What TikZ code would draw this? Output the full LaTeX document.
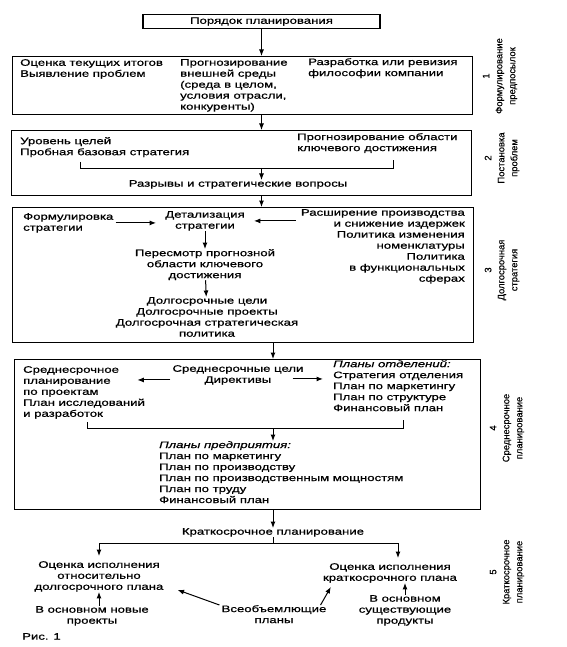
\documentclass[tikz,border=0pt]{standalone}
\usepackage{fontspec}
\setmainfont[FakeStretch=1.4,FakeBold=0.8]{Liberation Sans}
\newfontfamily\sidefont[FakeBold=0.3]{Liberation Sans}
\usetikzlibrary{arrows.meta,positioning,calc}
\tikzset{
  boxframe/.style={draw=black,line width=1.2pt},
  txt/.style={inner sep=0pt,font=\fontsize{9.4}{11}\selectfont},
  lefttxt/.style={txt,align=left,anchor=north west},
  midtxt/.style={txt,align=center,anchor=north},
  righttxt/.style={txt,align=right,anchor=north east},
  sidetxt/.style={inner sep=0pt,rotate=90,align=center,
                  font=\sidefont\fontsize{9.4}{13}\selectfont},
  arr/.style={-{Latex[length=6.5pt,width=5pt]},line width=1pt},
  brk/.style={line width=0.8pt}
}
\begin{document}
\begin{tikzpicture}[x=1pt,y=-1pt]
  \path[use as bounding box] (0,0) rectangle (566,647);

  \node[boxframe,txt,minimum width=237pt,minimum height=14pt] (order) at (261.5,21.5)
    {Порядок планирования};

  \node[boxframe,anchor=north west,minimum width=460pt,minimum height=58pt] (stage1) at (12,56) {};
  \node[lefttxt] (current) at (20,59) {Оценка текущих итогов\\Выявление проблем};
  \node[lefttxt] (environ) at (180,59)
    {Прогнозирование\\внешней среды\\(среда в целом,\\условия отрасли,\\конкуренты)};
  \node[lefttxt] (philos) at (308,58) {Разработка или ревизия\\философии компании};
  \node[sidetxt] (side1) at (500,76) {1\\Формулирование\\предпосылок};
  \draw[arr] (order.south) -- (order.south |- stage1.north);

  \node[boxframe,anchor=north west,minimum width=460pt,minimum height=65pt] (stage2) at (11,130) {};
  \node[lefttxt] (goals) at (20,137) {Уровень целей\\Пробная базовая стратегия};
  \node[lefttxt] (keyfc) at (297,133) {Прогнозирование области\\ключевого достижения};
  \node[midtxt] (gaps) at (238,180) {Разрывы и стратегические вопросы};
  \node[sidetxt] (side2) at (502,158) {2\\Постановка\\проблем};
  \coordinate (brA) at (80,168);
  \coordinate (brB) at (393,168);
  \draw[brk] (80,162) -- (brA) -- (brB) -- (393,160);
  \draw[arr] (order.south |- stage1.south) -- (order.south |- stage2.north);
  \draw[arr] (order.south |- brA) -- (order.south |- gaps.north);

  \node[boxframe,anchor=north west,minimum width=461pt,minimum height=135pt] (stage3) at (12,207) {};
  \node[lefttxt] (form) at (23,213) {Формулировка\\стратегии};
  \node[midtxt] (detail) at (205,211) {Детализация\\стратегии};
  \node[righttxt] (expand) at (465,209)
    {Расширение производства\\и снижение издержек\\Политика изменения\\номенклатуры\\Политика\\в функциональных\\сферах};
  \node[midtxt] (review) at (205,249) {Пересмотр прогнозной\\области ключевого\\достижения};
  \node[midtxt] (longterm) at (207,297)
    {Долгосрочные цели\\Долгосрочные проекты\\Долгосрочная стратегическая\\политика};
  \node[sidetxt] (side3) at (502,270) {3\\Долгосрочная\\стратегия};
  \draw[arr] (order.south |- stage2.south) -- (order.south |- stage3.north);
  \draw[arr] ([xshift=2pt]form.east) -- ([xshift=-9pt]detail.west |- form.east);
  \draw[arr] ([xshift=-5pt]expand.west |- detail.east) -- ([xshift=9pt]detail.east);
  \draw[arr] (detail) -- (review);
  \draw[arr] (review) -- (longterm);

  \node[boxframe,anchor=north west,minimum width=466pt,minimum height=150pt] (stage4) at (14,359) {};
  \node[lefttxt] (midproj) at (23,366)
    {Среднесрочное\\планирование\\по проектам\\План исследований\\и разработок};
  \node[midtxt] (midgoals) at (238,365) {Среднесрочные цели\\Директивы};
  \node[lefttxt] (divplans) at (333,360)
    {\itshape Планы отделений:\\Стратегия отделения\\План по маркетингу\\План по структуре\\Финансовый план};
  \node[lefttxt] (entplans) at (159,441)
    {\itshape Планы предприятия:\\План по маркетингу\\План по производству\\План по производственным мощностям\\План по труду\\Финансовый план};
  \node[sidetxt] (side4) at (507,428) {4\\Среднесрочное\\планирование};
  \coordinate (brC) at (87,428);
  \coordinate (brD) at (403,428);
  \draw[brk] (87,422) -- (brC) -- (brD) -- (403,420);
  \draw[arr] ([xshift=-2pt,yshift=-5pt]midgoals.west) -- ([xshift=-35pt,yshift=-5pt]midgoals.west);
  \draw[arr] ([xshift=-11pt,yshift=-4pt]midgoals.east) -- ([xshift=-10pt,yshift=-4pt]divplans.west |- midgoals.east);

  \node[midtxt] (short) at (273,528) {Краткосрочное планирование};
  \draw[arr] (short.north |- stage3.south) -- (short.north |- stage4.north);
  \draw[arr] (short.north |- brC) -- (short.north |- entplans.north);
  \draw[arr] (short.north |- stage4.south) -- (short.north);

  \node[midtxt] (evalL) at (99,561) {Оценка исполнения\\относительно\\долгосрочного плана};
  \node[midtxt] (newproj) at (92,606) {В основном новые\\проекты};
  \node[midtxt] (allplans) at (274,605) {Всеобъемлющие\\планы};
  \node[midtxt] (evalR) at (390,563) {Оценка исполнения\\краткосрочного плана};
  \node[midtxt] (exist) at (405,595) {В основном\\существующие\\продукты};
  \node[sidetxt] (side5) at (507,572) {5\\Краткосрочное\\планирование};
  \node[lefttxt] (fig) at (22,633) {Рис. 1};
  \coordinate (fork) at (273,543);
  \draw[line width=1pt] (short) -- (fork);
  \draw[arr] (fork) -| ([yshift=5pt]evalL.north);
  \draw[arr] (fork) -| ([xshift=8pt,yshift=5pt]evalR.north);
  \draw[arr] (newproj.north -| evalL) -- (evalL.south);
  \draw[arr] ([xshift=-2pt]allplans.north west) -- ([xshift=14pt,yshift=2pt]evalL.south east);
  \draw[arr] ([xshift=-6pt]allplans.north east) -- ([xshift=8pt,yshift=-4pt]evalR.south west);
  \draw[arr] (exist.north) -- (exist.north |- evalR.south);
\end{tikzpicture}
\end{document}
